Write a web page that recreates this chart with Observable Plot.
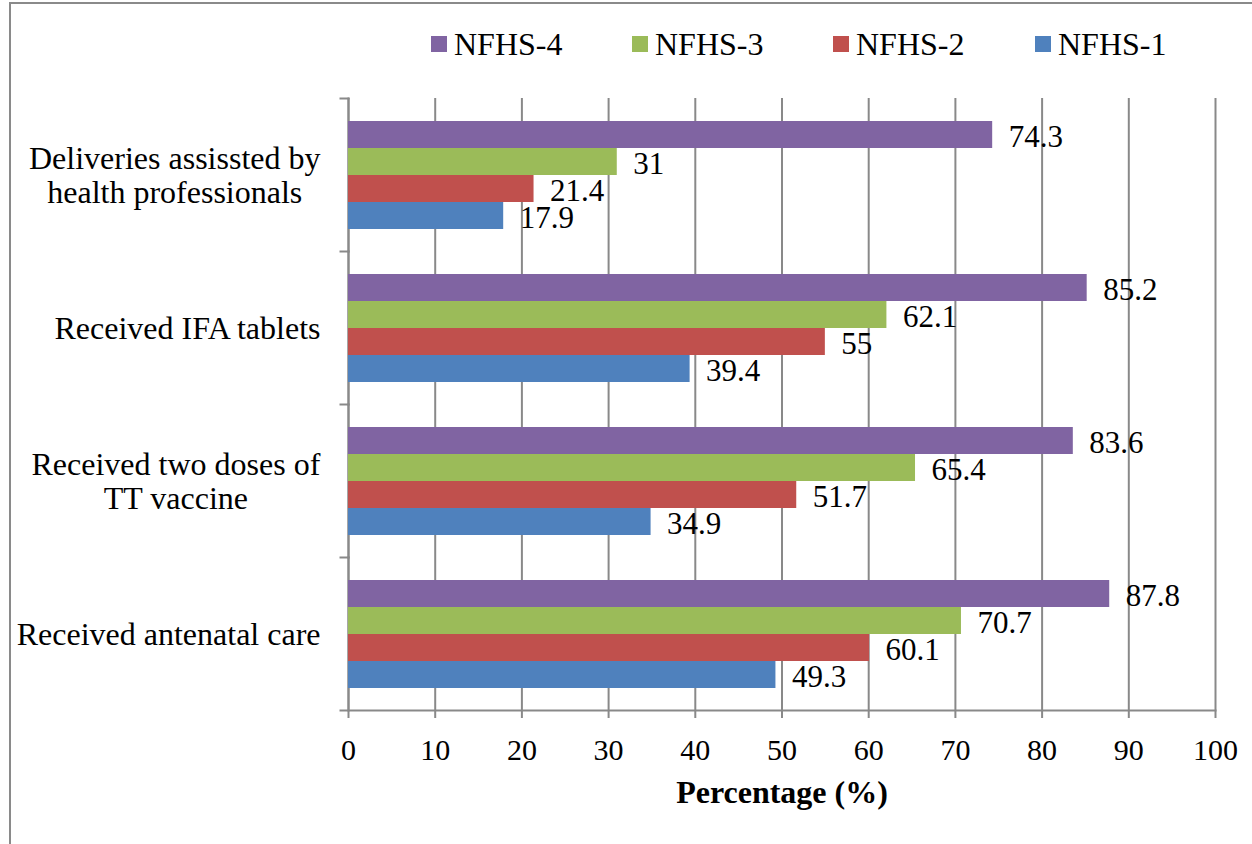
<!DOCTYPE html>
<html>
<head>
<meta charset="utf-8">
<script src="https://cdn.jsdelivr.net/npm/d3@7"></script>
<script src="https://cdn.jsdelivr.net/npm/@observablehq/plot@0.6"></script>
<style>
  html, body { margin: 0; padding: 0; background: #fff; }
  body { width: 1252px; height: 844px; position: relative; overflow: hidden; font-family: "Liberation Serif"; }
  #border { position: absolute; z-index: 5; pointer-events: none; left: 9px; top: 2px; width: 2000px; height: 2000px; border-left: 2px solid #8a8a8a; border-top: 2px solid #8a8a8a; }
  #legend { position: relative; height: 80px; }
  .item { position: absolute; top: 24px; display: flex; align-items: center; font-size: 32px; line-height: 40px; color: #000; font-family: "Liberation Serif"; }
  .sw { width: 16px; height: 16px; margin-right: 7px; }
  #chart { position: relative; }
</style>
</head>
<body>
<div id="border"></div>
<div id="legend"></div>
<div id="chart"></div>
<script>
const categories = [
  "Deliveries assissted by\nhealth professionals",
  "Received IFA tablets",
  "Received two doses of\nTT vaccine",
  "Received antenatal care"
];
const series = ["NFHS-4", "NFHS-3", "NFHS-2", "NFHS-1"];
const nfhs4 = [74.3, 85.2, 83.6, 87.8];
const nfhs3 = [31, 62.1, 65.4, 70.7];
const nfhs2 = [21.4, 55, 51.7, 60.1];
const nfhs1 = [17.9, 39.4, 34.9, 49.3];
const colors = ["#8064A2", "#9BBB59", "#C0504D", "#4F81BD"];
const xTicks = [0, 10, 20, 30, 40, 50, 60, 70, 80, 90, 100];
const legendX = [431, 632, 833, 1035];

const valuesBySeries = [nfhs4, nfhs3, nfhs2, nfhs1];
const data = [];
categories.forEach((c, i) => series.forEach((s, j) => data.push({category: c, series: s, value: valuesBySeries[j][i]})));

const FONT = "Liberation Serif";

// legend
const legend = document.getElementById("legend");
series.forEach((s, j) => {
  const it = document.createElement("div");
  it.className = "item";
  it.style.left = legendX[j] + "px";
  it.style.fontFamily = `"${FONT}"`;
  it.innerHTML = `<div class="sw" style="background:${colors[j]}"></div><span>${s}</span>`;
  legend.appendChild(it);
});

const W = 1252, H = 764, mL = 348, mR = 37, mT = 16, mB = 133;
const plotW = W - mL - mR;
const grid = "#898989";

const chart = Plot.plot({
  width: W, height: H,
  marginLeft: mL, marginRight: mR, marginTop: mT, marginBottom: mB,
  style: {fontFamily: FONT, fontSize: "30px", background: "transparent", color: "black"},
  x: {domain: [0, 100], ticks: xTicks},
  y: {domain: series, paddingInner: 0, paddingOuter: 0.8, axis: null},
  fy: {domain: categories, padding: 0},
  color: {domain: series, range: colors},
  marks: [
    Plot.gridX(xTicks, {stroke: grid, strokeOpacity: 1, strokeWidth: 2}),
    Plot.frame({anchor: "left", stroke: grid, strokeWidth: 2}),
    Plot.frame({anchor: "top", stroke: grid, strokeWidth: 2, insetLeft: -8, insetRight: plotW}),
    Plot.frame({anchor: "bottom", stroke: grid, strokeWidth: 2, insetLeft: -8, facetAnchor: "bottom"}),
    Plot.barX(data, {fy: "category", y: "series", x: "value", fill: "series"}),
    Plot.text(data, {fy: "category", y: "series", x: "value", text: d => String(d.value), textAnchor: "start", dx: 16, dy: 2, fontSize: 31, fontFamily: FONT, fill: "black"}),
    Plot.axisX({ticks: xTicks, tickSize: 8, tickPadding: 20, fontSize: 30, fontFamily: FONT, stroke: grid, strokeWidth: 2, fill: "black", label: null}),
    Plot.axisFy({anchor: "left", tickSize: 0, tickPadding: 28, fontSize: 32, fontFamily: FONT, lineHeight: 1.07, label: null, textAnchor: "end", fill: "black"}),
    Plot.text(["Percentage (%)"], {frameAnchor: "bottom", dy: 92, lineAnchor: "bottom", fontWeight: "bold", fontSize: 32, fontFamily: FONT, fill: "black", facetAnchor: "bottom"})
  ]
});
document.getElementById("chart").appendChild(chart);

// center multi-line category labels within their right-aligned block
chart.querySelectorAll('g[aria-label="fy-axis tick label"] text').forEach(t => {
  const b = t.getBBox();
  if (t.querySelectorAll("tspan").length > 1) {
    t.setAttribute("text-anchor", "middle");
    t.querySelectorAll("tspan").forEach(ts => ts.setAttribute("x", -b.width / 2));
  }
});
</script>
</body>
</html>
